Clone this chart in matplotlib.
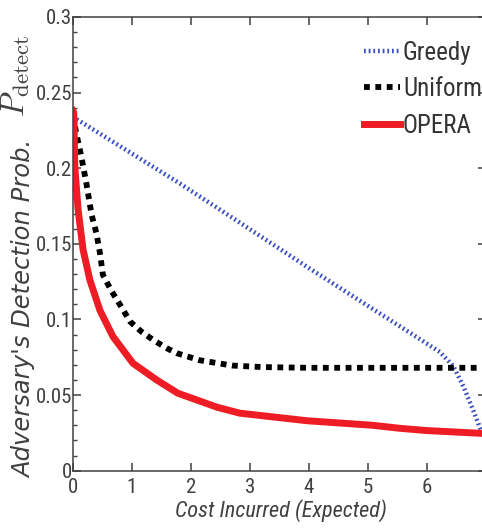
import matplotlib
matplotlib.use("Agg")
import matplotlib.pyplot as plt
from matplotlib.ticker import MultipleLocator

plt.rcParams['font.family'] = ['Roboto Condensed', 'DejaVu Sans']
plt.rcParams['mathtext.fontset'] = 'cm'

# values
greedy_x = [0, 1.81, 2.83, 4.0, 5.54, 5.88, 6.22, 6.45, 6.62, 6.76, 6.87, 7.0]
greedy_y = [0.234, 0.190, 0.164, 0.134, 0.0955, 0.087, 0.0785, 0.069, 0.0556, 0.0424, 0.0314, 0.018]

uniform_x = [0, 0.06, 0.15, 0.23, 0.32, 0.40, 0.46, 0.51, 0.66, 0.80, 0.97, 1.16, 1.36,
             1.59, 1.76, 2.15, 2.7, 3.2, 4, 5, 6, 7]
uniform_y = [0.235, 0.223, 0.2067, 0.190, 0.169, 0.157, 0.144, 0.1295, 0.1185, 0.1097, 0.0986,
             0.092, 0.0865, 0.081, 0.0777, 0.073, 0.0695, 0.0685, 0.068, 0.068, 0.068, 0.068]

opera_x = [0, 0.017, 0.034, 0.09, 0.175, 0.29, 0.46, 0.68, 1.02, 1.42, 1.78, 2.44, 2.83,
           3.97, 5.08, 5.54, 6.0, 6.9, 7.0]
opera_y = [0.238, 0.2367, 0.201, 0.1725, 0.146, 0.126, 0.106, 0.0887, 0.071, 0.060, 0.0512,
           0.042, 0.038, 0.033, 0.030, 0.028, 0.0265, 0.0247, 0.0246]

xticks = [0, 1, 2, 3, 4, 5, 6, 7]
yticks = [0, 0.05, 0.1, 0.15, 0.2, 0.25, 0.3]
yticklabels = ['0', '0.05', '0.1', '0.15', '0.2', '0.25', '0.3']

fig = plt.figure(figsize=(4.82, 5.30), dpi=100)
ax = fig.add_axes([0.151, 0.112, 0.857, 0.856])

ax.plot(greedy_x, greedy_y, color='#3a4fbf', lw=3.2, dashes=(0.4, 0.65), label='Greedy')
ax.plot(uniform_x, uniform_y, color='black', lw=4.2, dashes=(1.0, 0.95), label='Uniform')
ax.plot(opera_x, opera_y, color='#ee1c24', lw=5, label='OPERA')

ax.set_xlim(0, 7)
ax.set_ylim(0, 0.3)
ax.set_xticks(xticks)
ax.set_yticks(yticks)
ax.set_yticklabels(yticklabels)
ax.yaxis.set_minor_locator(MultipleLocator(0.01))
ax.tick_params(which='both', direction='in', top=True, right=True, labelsize=15, colors='#404040')
ax.tick_params(which='major', length=6, width=1.1)
ax.tick_params(which='minor', length=3, width=1.0)
ax.tick_params(axis='x', pad=5)
ax.tick_params(axis='y', pad=0.5)
for s in ax.spines.values():
    s.set_color('#404040')
    s.set_linewidth(1.1)

ax.set_xlabel('Cost Incurred (Expected)', fontsize=16, style='italic', color='#404040')
ax.xaxis.set_label_coords(0.505, -0.063)

# y label: italic words plus a larger math symbol, drawn as two rotated texts
fig.text(0.05, 0.098, "Adversary's Detection Prob.", rotation=90, ha='center', va='bottom',
         fontsize=17.5, style='italic', color='#404040', family=['DejaVu Sans'])
fig.text(0.032, 0.779, "$P_{\\rm detect}$", rotation=90, ha='center', va='bottom',
         fontsize=23.5, color='#404040')

leg = ax.legend(loc='upper left', bbox_to_anchor=(0.705, 0.948), frameon=False, fontsize=18,
                handlelength=1.44, handletextpad=0.12, labelspacing=0.5,
                borderaxespad=0, borderpad=0)
for t in leg.get_texts():
    t.set_color('#333333')

fig.savefig('out.png', dpi=100)
